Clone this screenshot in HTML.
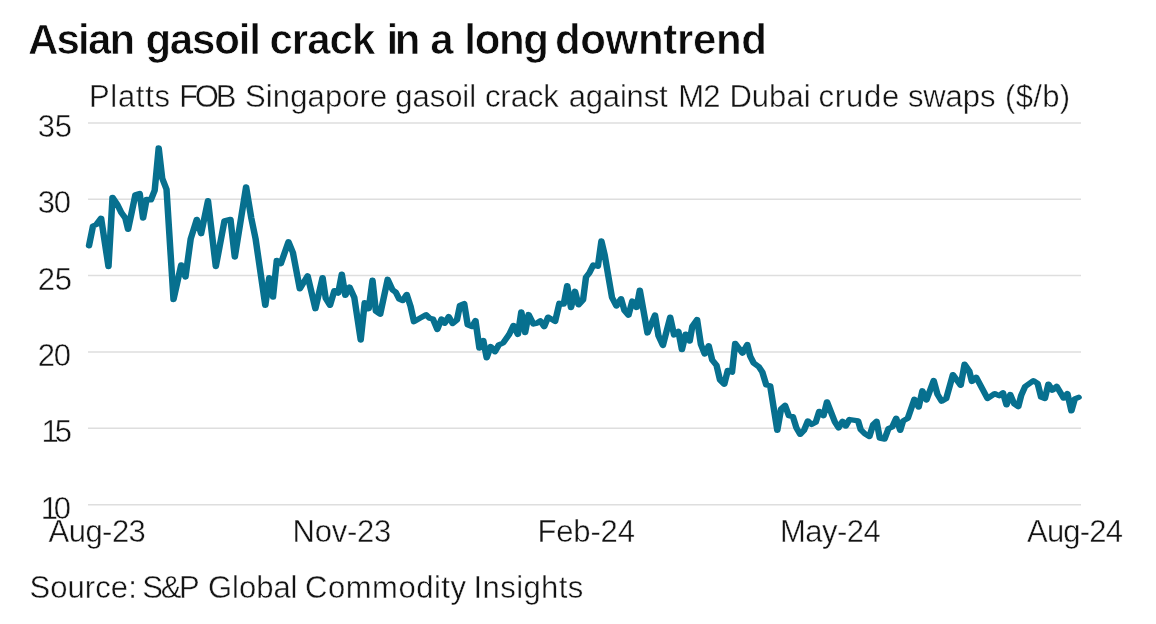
<!DOCTYPE html>
<html lang="en">
<head>
<meta charset="utf-8">
<title>Asian gasoil crack in a long downtrend</title>
<style>
html,body{margin:0;padding:0;background:#fff;}
body{width:1156px;height:624px;overflow:hidden;position:relative;font-family:"Liberation Sans",sans-serif;}
svg{position:absolute;left:0;top:0;display:block;}
text{font-family:"Liberation Sans",sans-serif;fill:#141414;font-size:31px;stroke:#fff;stroke-width:0.4px;}
text.title{font-weight:bold;font-size:42px;fill:#0c0c0c;stroke:#fff;stroke-width:0.7px;}
.grid line{stroke:#dedede;stroke-width:1.5;}
</style>
</head>
<body>
<svg width="1156" height="624" viewBox="0 0 1156 624">
<rect x="0" y="0" width="1156" height="624" fill="#ffffff"/>
<g class="grid">
<line x1="88" y1="122.9" x2="1081" y2="122.9"/>
<line x1="88" y1="199.3" x2="1081" y2="199.3"/>
<line x1="88" y1="275.6" x2="1081" y2="275.6"/>
<line x1="88" y1="351.9" x2="1081" y2="351.9"/>
<line x1="88" y1="428.3" x2="1081" y2="428.3"/>
<line x1="88" y1="504.7" x2="1081" y2="504.7"/>
</g>
<text class="title" y="54.2"><tspan x="28.10" style="letter-spacing:-1.854px">Asian </tspan><tspan x="145.40" style="letter-spacing:-1.179px">gasoil </tspan><tspan x="269.40" style="letter-spacing:-0.955px">crack </tspan><tspan x="386.50" style="letter-spacing:-3.369px">in </tspan><tspan x="430.30" style="letter-spacing:0.000px">a </tspan><tspan x="464.30" style="letter-spacing:-1.326px">long </tspan><tspan x="554.90" style="letter-spacing:-0.322px">downtrend</tspan></text>
<text class="sub" y="106.8"><tspan x="88.90" style="letter-spacing:0.714px">Platts </tspan><tspan x="179.20" style="letter-spacing:-3.274px">FOB </tspan><tspan x="245.10" style="letter-spacing:0.101px">Singapore </tspan><tspan x="395.30" style="letter-spacing:-0.042px">gasoil </tspan><tspan x="484.90" style="letter-spacing:-0.041px">crack </tspan><tspan x="568.70" style="letter-spacing:-0.175px">against </tspan><tspan x="678.20" style="letter-spacing:-0.823px">M2 </tspan><tspan x="729.40" style="letter-spacing:0.048px">Dubai </tspan><tspan x="818.60" style="letter-spacing:0.774px">crude </tspan><tspan x="907.90" style="letter-spacing:-0.092px">swaps </tspan><tspan x="1005.00" style="letter-spacing:0.346px">($/b)</tspan></text>
<text class="ylab" y="137.0"><tspan x="37.70" style="letter-spacing:-0.241px">35</tspan></text>
<text class="ylab" y="213.4"><tspan x="37.70" style="letter-spacing:-1.241px">30</tspan></text>
<text class="ylab" y="289.7"><tspan x="37.70" style="letter-spacing:-0.241px">25</tspan></text>
<text class="ylab" y="366.0"><tspan x="37.70" style="letter-spacing:-1.241px">20</tspan></text>
<text class="ylab" y="442.4"><tspan x="41.40" style="letter-spacing:-3.941px">15</tspan></text>
<text class="ylab" y="518.8"><tspan x="40.80" style="letter-spacing:-4.341px">10</tspan></text>
<text class="xlab" y="541.6"><tspan x="48.60" style="letter-spacing:-0.544px">Aug-23</tspan></text>
<text class="xlab" y="541.6"><tspan x="292.50" style="letter-spacing:-0.238px">Nov-23</tspan></text>
<text class="xlab" y="541.6"><tspan x="537.50" style="letter-spacing:-0.156px">Feb-24</tspan></text>
<text class="xlab" y="541.6"><tspan x="780.00" style="letter-spacing:-0.506px">May-24</tspan></text>
<text class="xlab" y="541.6"><tspan x="1027.00" style="letter-spacing:-0.784px">Aug-24</tspan></text>
<text class="src" y="597.5"><tspan x="29.40" style="letter-spacing:0.096px">Source: </tspan><tspan x="142.30" style="letter-spacing:-2.277px">S&amp;P </tspan><tspan x="208.00" style="letter-spacing:-0.024px">Global </tspan><tspan x="305.10" style="letter-spacing:0.518px">Commodity </tspan><tspan x="473.60" style="letter-spacing:0.409px">Insights</tspan></text>
<polyline id="series" transform="scale(1.22,1)" fill="none" stroke="#07708f" stroke-width="5.3" stroke-linejoin="round" stroke-linecap="round" points="
72.95,245.8 76.23,226 79.02,224.5 82.87,218.2 88.93,266.6 92.21,197.3 96.07,204.2 99.59,212.9 102.70,218 105.00,229.4
110.98,194.7 114.51,193.5 117.30,218.2 120.16,199.4 123.69,199.9 126.80,190.4 130.08,148 132.95,178.3 136.48,189.2 142.21,299.5
148.52,264.9 152.05,277 156.31,238.9 161.31,219.4 164.84,233.7 170.49,200.7 176.89,266.6 184.02,220.7 188.93,219.4 192.46,257.1
201.72,186.8 205.98,218.1 209.51,238.9 217.46,305.4 220.66,277.7 223.77,297.2 226.89,260.3 230.16,263.7 236.48,241.8 240.08,252.5
245.74,288.8 252.13,275.8 258.52,308.7 264.43,277.6 266.97,298.3 270.49,305.3 274.10,290.6 277.21,293.1 280.16,274.1 283.03,295.4
286.56,287.1 290.41,297.5 295.66,340 298.93,302.7 302.21,308.7 305.33,280.2 308.11,311.3 311.64,314.3 317.79,279.3 321.64,289.7
324.43,292.3 327.30,299.2 330.08,300.6 333.36,294.4 336.48,306.1 339.34,321.7 344.26,318.2 349.26,314.8 352.13,318.2 354.92,319.1
358.44,329.5 361.89,319 364.59,323.2 367.79,316.6 371.07,323.5 374.59,319.8 377.05,305.3 380.49,303.6 383.36,324.9 386.89,326.6
389.75,320.6 392.95,348.2 396.15,340.5 398.93,357.8 402.21,346.5 405.74,351.7 408.85,344.8 412.38,343 417.38,334.4 420.90,325.4
424.51,334.4 427.30,311.9 430.41,332.7 433.28,314.5 437.21,324 440.08,323.1 442.87,320.9 446.07,326.6 449.26,317.1 455.00,321.4
458.52,303.3 462.05,304.1 464.92,285.6 468.03,307.6 471.31,291.3 474.18,304.8 477.95,299.8 480.33,277.1 483.03,273 486.31,265
490.08,266.2 492.95,241 495.57,254.4 501.64,297.5 505.25,306 509.02,298.7 511.80,310.4 515.16,315.2 518.28,301 521.80,307.5
524.43,290.2 530.74,333 536.89,315 539.75,335.8 543.36,345.4 549.34,317.2 552.54,335 556.07,331.3 558.93,349.7 562.05,334.1
565.33,341 567.46,326.3 571.39,319.6 574.51,344.5 577.62,354 580.90,345.7 583.77,360.1 587.30,365.3 590.16,380 593.69,384.3
596.56,370.4 600.00,372.2 602.62,343.3 608.61,353.1 612.54,344.5 614.92,356.3 617.70,362.9 621.97,366.7 624.84,372 628.11,385
631.31,385.8 637.13,430.4 640.25,408.8 643.52,405.4 646.64,415.7 649.92,416.6 652.79,427.9 655.90,434.3 659.02,430.4 662.21,420.9
665.08,424.4 668.61,422.3 671.48,411.4 675.00,415.7 677.87,401.9 684.26,421.8 687.38,427.9 690.66,421.3 693.20,426.1 696.31,419.5
703.36,420.9 705.49,429.6 709.02,433.9 712.62,436.5 715.74,424.4 718.52,421.3 721.15,438.2 725.08,439.1 728.20,428.7 731.31,427
734.59,418.3 737.87,430.4 740.25,420.9 744.10,418.3 749.51,399.3 753.03,407.1 756.07,390.8 759.43,400 765.33,380.5 768.44,394.3
771.80,401.2 775.57,398.6 781.07,374.6 787.46,385.3 790.66,364.2 794.51,371.1 796.64,381.5 800.16,377.2 809.43,398.5 815.33,393.6
819.02,395.7 822.13,392.8 825.00,404.9 828.11,394.5 831.39,404 834.67,406.6 837.05,395.4 840.33,386.4 846.97,380.7 850.49,383.3
853.36,397.1 856.48,398.5 859.34,384.1 862.62,390.2 866.15,386.4 871.80,398 874.92,393.6 878.20,410.9 880.98,398.8 884.10,397.3"/>
</svg>
</body>
</html>
